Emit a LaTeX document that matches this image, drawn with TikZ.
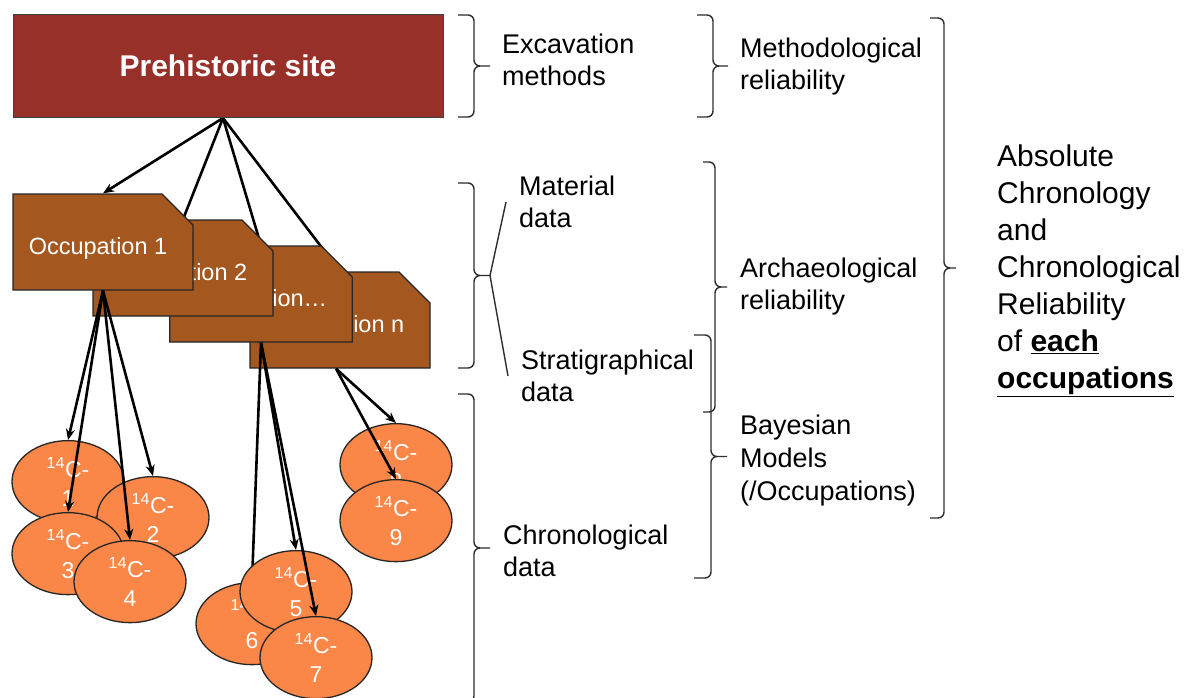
\documentclass[tikz,border=0pt]{standalone}
\usepackage{fontspec}
\setmainfont{Liberation Sans}
\usetikzlibrary{shapes.geometric,shapes.misc,arrows.meta}
\pgfdeclarelayer{back}
\pgfsetlayers{back,main}
\definecolor{sitered}{RGB}{150,48,40}
\definecolor{occbrown}{RGB}{164,88,32}
\definecolor{datorange}{RGB}{250,134,72}
\definecolor{brcgray}{RGB}{45,45,45}
\tikzset{
  site/.style={draw=black!75, line width=1pt, fill=sitered, text=white, minimum width=430pt, minimum height=103pt, inner sep=0pt, font=\bfseries\fontsize{30}{36}\selectfont},
  occ/.style={chamfered rectangle, chamfered rectangle corners=north east, chamfered rectangle xsep=15pt, chamfered rectangle ysep=16pt, draw=black!85, line width=1.3pt, fill=occbrown, text=white, minimum width=180pt, minimum height=96pt, inner sep=0pt, text height=29pt, text depth=5pt, font=\fontsize{23.5}{28}\selectfont},
  datum/.style={ellipse, anchor=north, draw=black!85, line width=1.3pt, fill=datorange, text=white, minimum width=112pt, minimum height=82pt, inner sep=0pt, align=center, font=\fontsize{23}{29}\selectfont},
  conn/.style={line width=2.6pt, -{Stealth[length=11pt,width=9pt]}},
  lbl/.style={anchor=west, align=left, inner sep=0pt, font=\fontsize{27}{32}\selectfont},
  brc/.style={draw=brcgray, line width=1.4pt, rounded corners=6pt}
}
% left x, spine x, top y, bottom y, tip x
\newcommand{\drawbrace}[5]{%
  \draw[brc] (#1,#3) -- (#2,#3) -- (#2,{(#3+#4)/2}) -- (#5,{(#3+#4)/2})
    (#1,#4) -- (#2,#4) -- (#2,{(#3+#4)/2}) -- (#5,{(#3+#4)/2});}
\begin{document}
\begin{tikzpicture}[x=1pt,y=-1pt]
  \useasboundingbox (0,0) rectangle (1201,698);
  % site and occupations
  \node[site] (site) at (228,66) {Prehistoric site};
  \node[occ] (occ4) at (340,320) {Occupation n\hspace*{10pt}};
  \node[occ] (occ3) at (261,294) {Occupation…\hspace*{10pt}};
  \node[occ] (occ2) at (183,268) {Occupation 2\hspace*{10pt}};
  \node[occ] (occ1) at (103,242) {Occupation 1\hspace*{10pt}};
  \begin{pgfonlayer}{back}
    \draw[conn] ([xshift=-5pt]site.south) -- (occ1.north);
    \draw[conn, shorten >=-12pt] ([xshift=-5pt]site.south) -- (occ2.north);
    \draw[conn, shorten >=-12pt] ([xshift=-5pt]site.south) -- (occ3.north);
    \draw[conn, shorten >=-12pt] ([xshift=-5pt]site.south) -- (occ4.north);
  \end{pgfonlayer}
  % radiocarbon dates
  \coordinate (t1) at (68,440);
  \draw[conn] (occ1.south) -- (t1);
  \node[datum] (c1) at (t1) {\textsuperscript{14}C-\\1};
  \coordinate (t2) at (153,476);
  \draw[conn] (occ1.south) -- (t2);
  \node[datum] (c2) at (t2) {\textsuperscript{14}C-\\2};
  \coordinate (t3) at (68,512);
  \draw[conn] (occ1.south) -- (t3);
  \node[datum] (c3) at (t3) {\textsuperscript{14}C-\\3};
  \coordinate (t4) at (130,540);
  \draw[conn] (occ1.south) -- (t4);
  \node[datum] (c4) at (t4) {\textsuperscript{14}C-\\4};
  \coordinate (t6) at (252,582);
  \draw[conn] (occ3.south) -- (t6);
  \node[datum] (c6) at (t6) {\textsuperscript{14}C-\\6};
  \coordinate (t5) at (296,550);
  \draw[conn] (occ3.south) -- (t5);
  \node[datum] (c5) at (t5) {\textsuperscript{14}C-\\5};
  \coordinate (t7) at (316,616);
  \draw[conn] (occ3.south) -- (t7);
  \node[datum] (c7) at (t7) {\textsuperscript{14}C-\\7};
  \coordinate (t8) at (396,423);
  \draw[conn] ([xshift=-4pt]occ4.south) -- (t8);
  \node[datum] (c8) at (t8) {\textsuperscript{14}C-\\8};
  \coordinate (t9) at (396,479);
  \draw[conn] ([xshift=-4pt]occ4.south) -- (t9);
  \node[datum] (c9) at (t9) {\textsuperscript{14}C-\\9};
  % braces
  \drawbrace{458}{474}{15}{117}{490}
  \drawbrace{697}{713}{15}{117}{728}
  \drawbrace{930}{944}{18}{518}{956}
  \drawbrace{458}{474}{183}{368}{490}
  \drawbrace{458}{474}{394}{702}{490}
  \drawbrace{703}{715}{162}{412}{727}
  \drawbrace{694}{711}{335}{578}{727}
  \coordinate (occtip) at (490,275.5);
  % labels
  \node[lbl] (excav) at (502,60) {Excavation\\methods};
  \node[lbl] (meth) at (740,67) {Methodological\\reliability};
  \node[lbl] (mat) at (519,202) {Material\\data};
  \node[lbl] (strat) at (521,376) {Stratigraphical\\data};
  \node[lbl] (chrono) at (503,551) {Chronological\\data};
  \node[lbl] (arch) at (740,287) {Archaeological\\reliability};
  \node[lbl, font=\fontsize{27}{33}\selectfont] (bayes) at (740,461) {Bayesian\\Models\\(/Occupations)};
  \node[lbl, font=\fontsize{30}{37}\selectfont] (absol) at (997,271) {Absolute\\Chronology\\and\\Chronological\\Reliability\\of \underline{\textbf{each}}\\\underline{\textbf{occupations}}};
  \draw[brc, rounded corners=0pt] ([xshift=-13pt]mat.west) -- (occtip) -- ([xshift=-13pt]strat.west);
\end{tikzpicture}
\end{document}
